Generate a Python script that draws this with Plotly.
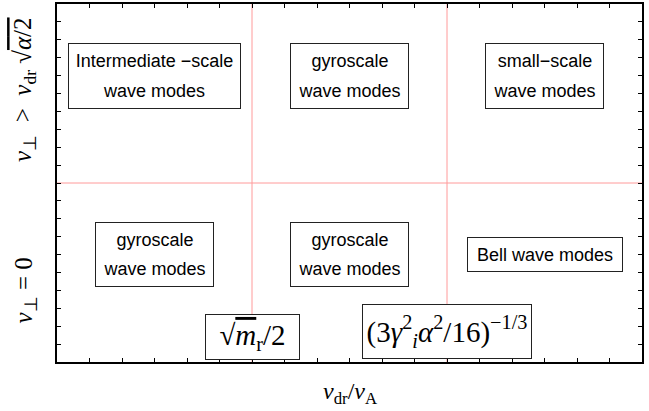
import plotly.graph_objects as go

# ---- data ----
x_range = [0, 18]
y_range = [0, 20]
x_boundaries = [6, 12]          # vertical regime boundaries
y_boundary = 10                 # horizontal regime boundary

region_line1 = ["Intermediate \u2212scale", "gyroscale", "small\u2212scale",
                "gyroscale", "gyroscale", "Bell wave modes"]
region_line2 = ["wave modes", "wave modes", "wave modes",
                "wave modes", "wave modes", ""]
region_x = [3, 9, 15, 3, 9, 15]
region_y = [16, 16, 16, 6, 6, 6]

threshold_text = [
    "\u221a<span style='text-decoration:overline'><i>m</i></span><sub>r</sub>/2",
    "(3<i>\u03b3</i><sup>2</sup><sub><i>i</i></sub><i>\u03b1</i><sup>2</sup>/16)<sup>\u22121/3</sup>",
]
threshold_x = [6, 12]
threshold_y = [1.4, 1.7]

ylabel_text = ["<i>v</i><sub>\u22a5</sub> = 0",
               "<i>v</i><sub>\u22a5</sub>  >  <i>v</i><sub>dr</sub> \u221a<span style='text-decoration:overline'><i>\u03b1</i>/2</span>"]
ylabel_y = [4.0, 15.2]
xlabel_text = "<i>v</i><sub>dr</sub>/<i>v</i><sub>A</sub>"

# ---- figure ----
fig = go.Figure()
red = "#ff9a9a"
for xb in x_boundaries:
    fig.add_trace(go.Scatter(x=[xb, xb], y=y_range, mode="lines",
                             line=dict(color=red, width=1), hoverinfo="skip", showlegend=False))
fig.add_trace(go.Scatter(x=x_range, y=[y_boundary, y_boundary], mode="lines",
                         line=dict(color=red, width=1), hoverinfo="skip", showlegend=False))

sans = "Liberation Sans, Arial, sans-serif"
serif = "Liberation Serif, Times New Roman, serif"

box_sizes = [(171, 64), (117, 64), (117, 64), (117, 63), (117, 63), (154, 33)]
for t1, t2, x, y, (w, h) in zip(region_line1, region_line2, region_x, region_y, box_sizes):
    if t2:
        txt = f"<span style='font-size:18px'>{t1}</span><br><span style='font-size:18px'>{t2}</span>"
        fs = 23
    else:
        txt = t1
        fs = 18
    fig.add_annotation(x=x, y=y, xref="x", yref="y", text=txt, showarrow=False,
                       font=dict(family=sans, size=fs, color="black"),
                       width=w, height=h, bordercolor="#222", borderwidth=1,
                       borderpad=0, bgcolor="white", align="center")

thr_sizes = [(93, 44), (168, 53)]
for t, x, y, (w, h) in zip(threshold_text, threshold_x, threshold_y, thr_sizes):
    fig.add_annotation(x=x, y=y, xref="x", yref="y", text=t, showarrow=False,
                       font=dict(family=serif, size=29, color="black"),
                       width=w, height=h, bordercolor="#222", borderwidth=1,
                       borderpad=0, bgcolor="white")

for t, y in zip(ylabel_text, ylabel_y):
    fig.add_annotation(x=0, y=y, xref="paper", yref="y", text=t, showarrow=False,
                       textangle=-90, xanchor="center", yanchor="middle", xshift=-32,
                       font=dict(family=serif, size=25, color="black"))

fig.add_annotation(x=9, y=0, xref="x", yref="paper", text=xlabel_text, showarrow=False,
                   xanchor="center", yanchor="middle", yshift=-31,
                   font=dict(family=serif, size=24, color="black"))

axis_common = dict(showgrid=False, zeroline=False, showline=True, linecolor="black",
                   linewidth=2, mirror="ticks", ticks="inside", ticklen=4, tickwidth=1,
                   tickcolor="black", dtick=1, showticklabels=False)
fig.update_xaxes(range=x_range, tick0=0, **axis_common)
fig.update_yaxes(range=y_range, tick0=0, **axis_common)

fig.update_layout(width=649, height=411, margin=dict(l=57, r=7, t=2, b=49),
                  plot_bgcolor="white", paper_bgcolor="white")

fig.write_html("out.html", config={"displayModeBar": False},
               post_script="document.body.style.margin='0';document.body.style.overflow='hidden';")
